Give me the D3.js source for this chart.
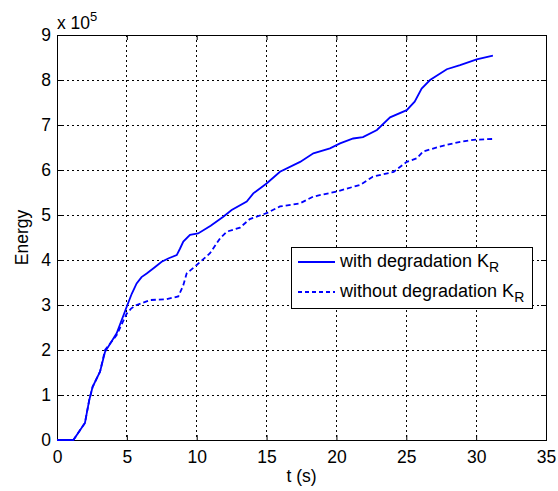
<!DOCTYPE html>
<html>
<head>
<meta charset="utf-8">
<script src="https://cdn.jsdelivr.net/npm/d3@7"></script>
<style>
  body { margin: 0; background: #fff; }
  svg { font-family: "Liberation Sans", Arial, sans-serif; }
</style>
</head>
<body>
<svg id="chart" width="558" height="491"></svg>
<script>
// energy values are in units of 1e5
const tWith = [0, 1.17, 2.0, 2.31, 2.55, 3.08, 3.44, 4.27, 4.99, 5.35, 5.7, 6.05, 6.42, 7.0, 7.49, 8.0, 8.57, 8.8, 9.04, 9.52, 10.1,
  11.0, 11.9, 12.5, 13.58, 14.05, 15.0, 15.96, 17.4, 18.35, 19.54, 20.26, 21.2, 21.9, 22.9, 23.84, 25.03,
  25.6, 26.1, 26.7, 27.9, 28.85, 30.04, 31.2];
const eWith = [0, 0, 0.38, 0.89, 1.18, 1.52, 1.96, 2.37, 2.96, 3.25, 3.48, 3.62, 3.70, 3.84, 3.96, 4.04, 4.11, 4.25, 4.41, 4.56, 4.59,
  4.76, 4.96, 5.11, 5.30, 5.48, 5.70, 5.96, 6.18, 6.37, 6.48, 6.59, 6.70, 6.73, 6.89, 7.17, 7.33,
  7.52, 7.81, 8.0, 8.24, 8.33, 8.46, 8.54];

const tWithout = [0, 1.17, 2.0, 2.31, 2.55, 3.08, 3.44, 4.27, 4.99, 5.3, 5.7, 6.66, 7.85, 8.68, 9.04, 9.28,
  10.0, 10.95, 11.67, 12.15, 13.1, 13.8, 15.0, 15.96, 17.4, 18.35, 20.0, 21.7, 22.6, 24.1, 25.03,
  25.75, 26.2, 27.4, 28.6, 29.8, 31.2];
const eWithout = [0, 0, 0.38, 0.89, 1.18, 1.52, 2.0, 2.33, 2.81, 2.92, 3.0, 3.11, 3.13, 3.19, 3.44, 3.70,
  3.89, 4.15, 4.48, 4.63, 4.72, 4.91, 5.04, 5.19, 5.26, 5.41, 5.52, 5.67, 5.85, 5.96, 6.18,
  6.26, 6.41, 6.52, 6.61, 6.67, 6.69];

const xTicks = [0, 5, 10, 15, 20, 25, 30, 35];
const yTicks = [0, 1, 2, 3, 4, 5, 6, 7, 8, 9];
const legendLabels = ["with degradation K", "without degradation K"];

const svg = d3.select("#chart");
const plotLeft = 57, plotRight = 546, plotTop = 35, plotBottom = 440;
const fontSize = "17.5px";

const x = d3.scaleLinear().domain([0, 35]).range([plotLeft, plotRight]);
const y = d3.scaleLinear().domain([0, 9]).range([plotBottom, plotTop]);

// grid
const grid = svg.append("g")
    .attr("stroke", "#000")
    .attr("stroke-width", 1)
    .attr("stroke-dasharray", "2,3")
    .attr("shape-rendering", "crispEdges");
grid.selectAll(".gx").data(xTicks.slice(1, -1)).join("line")
    .attr("x1", d => x(d)).attr("x2", d => x(d))
    .attr("y1", plotTop).attr("y2", plotBottom);
grid.selectAll(".gy").data(yTicks.slice(1, -1)).join("line")
    .attr("x1", plotLeft).attr("x2", plotRight)
    .attr("y1", d => y(d)).attr("y2", d => y(d));

// axes with inward ticks
const xAxis = svg.append("g")
    .attr("transform", `translate(0,${plotBottom})`)
    .call(d3.axisBottom(x).tickValues(xTicks).tickSize(-5).tickPadding(11));
const xAxisTop = svg.append("g")
    .attr("transform", `translate(0,${plotTop})`)
    .call(d3.axisTop(x).tickValues(xTicks).tickSize(-5).tickFormat(""));
const yAxis = svg.append("g")
    .attr("transform", `translate(${plotLeft},0)`)
    .call(d3.axisLeft(y).tickValues(yTicks).tickSize(-5).tickPadding(6));
const yAxisRight = svg.append("g")
    .attr("transform", `translate(${plotRight},0)`)
    .call(d3.axisRight(y).tickValues(yTicks).tickSize(-5).tickFormat(""));

[xAxis, xAxisTop, yAxis, yAxisRight].forEach(g => {
    g.select(".domain").attr("stroke", "#000").attr("shape-rendering", "crispEdges");
    g.selectAll(".tick line").attr("stroke", "#000");
    g.selectAll(".tick text")
        .attr("fill", "#000")
        .style("font-size", fontSize)
        .style("font-family", "'Liberation Sans', Arial, sans-serif");
});

// exponent label
const expo = svg.append("text")
    .attr("x", plotLeft).attr("y", 29)
    .style("font-size", fontSize);
expo.append("tspan").text("x 10");
expo.append("tspan").attr("dy", -8).style("font-size", "13px").text("5");

// axis labels
svg.append("text")
    .attr("x", x(17.5)).attr("y", 482)
    .attr("text-anchor", "middle")
    .style("font-size", fontSize)
    .text("t (s)");
svg.append("text")
    .attr("transform", `translate(28,${(plotTop + plotBottom) / 2}) rotate(-90)`)
    .attr("text-anchor", "middle")
    .style("font-size", fontSize)
    .text("Energy");

// curves
const line = d3.line().x(d => x(d[0])).y(d => y(d[1]));
svg.append("path")
    .datum(d3.zip(tWith, eWith))
    .attr("d", line)
    .attr("fill", "none")
    .attr("stroke", "#0000ff")
    .attr("stroke-width", 1.8);
svg.append("path")
    .datum(d3.zip(tWithout, eWithout))
    .attr("d", line)
    .attr("fill", "none")
    .attr("stroke", "#0000ff")
    .attr("stroke-width", 1.8)
    .attr("stroke-dasharray", "5,3");

// legend
const legend = svg.append("g");
legend.append("rect")
    .attr("x", 291.5).attr("y", 247.5)
    .attr("width", 241).attr("height", 61)
    .attr("fill", "#fff")
    .attr("stroke", "#000");
legendLabels.forEach((label, i) => {
    const ly = 262 + i * 30;
    legend.append("line")
        .attr("x1", 298).attr("x2", 335)
        .attr("y1", ly).attr("y2", ly)
        .attr("stroke", "#0000ff")
        .attr("stroke-width", 1.8)
        .attr("stroke-dasharray", i === 0 ? null : "4,3");
    const t = legend.append("text")
        .attr("x", 340).attr("y", ly + 5)
        .style("font-size", "18px");
    t.append("tspan").text(label);
    t.append("tspan").attr("dy", 5).style("font-size", "14px").text("R");
});
</script>
</body>
</html>
